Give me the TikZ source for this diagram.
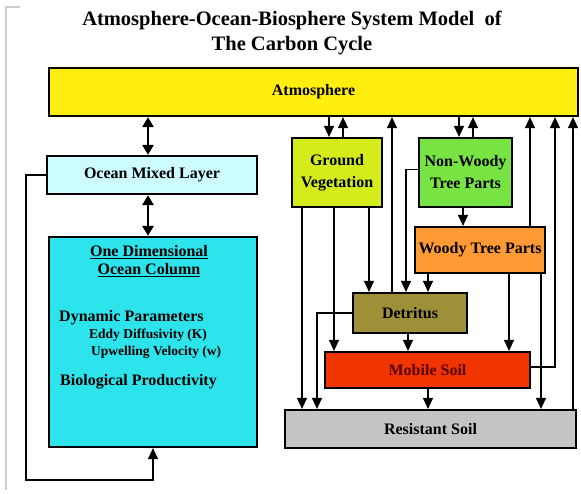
\documentclass[tikz,border=0pt]{standalone}
\usepackage{fontspec}
\setmainfont{Liberation Serif}
\usetikzlibrary{arrows.meta}
\definecolor{atmcol}{HTML}{FFEF10}
\definecolor{omlcol}{HTML}{CCFCFF}
\definecolor{colcol}{HTML}{2EE4EC}
\definecolor{gvcol}{HTML}{D4EC1C}
\definecolor{nwcol}{HTML}{78E444}
\definecolor{wdcol}{HTML}{FF9A34}
\definecolor{detcol}{HTML}{9E9038}
\definecolor{mscol}{HTML}{F23400}
\definecolor{rscol}{HTML}{C4C4C4}
\tikzset{box/.style={draw,line width=2.2pt,inner sep=0pt,align=center,
      font=\bfseries\fontsize{16}{22}\selectfont},
    flow/.style={line width=1.3pt,-{Triangle[length=11pt,width=10pt]}},
    both/.style={line width=2.6pt,
      {Triangle[length=10pt,width=11pt]}-{Triangle[length=10pt,width=11pt]}},
    sub/.style={anchor=west,inner sep=0pt,font=\bfseries\fontsize{13.5}{15}\selectfont},
    main/.style={anchor=west,inner sep=0pt,font=\bfseries\fontsize{16}{18}\selectfont}}

\begin{document}
\begin{tikzpicture}[x=1pt,y=-1pt]
\useasboundingbox (0,0) rectangle (581,493);
\draw[black!20,line width=1.5pt] (20,7) -- (6,7) -- (6,490);
\node[align=center,font=\bfseries\fontsize{20.5}{25}\selectfont] (title) at (292,33)
    {Atmosphere-Ocean-Biosphere System Model~ of\\The Carbon Cycle};

% boxes
\node[box,fill=atmcol,minimum width=529pt,minimum height=48pt] (atm) at (313.5,92) {Atmosphere};
\node[box,fill=omlcol,minimum width=210pt,minimum height=38pt] (oml) at (152,175) {Ocean Mixed Layer};
\node[box,fill=colcol,minimum width=208pt,minimum height=210pt] (col) at (153,342) {};
\node[box,fill=gvcol,minimum width=90pt,minimum height=69pt] (gv) at (337,172.5) {Ground\\Vegetation};
\node[box,fill=nwcol,minimum width=93pt,minimum height=69pt] (nw) at (465.5,172.5) {Non-Woody\\Tree Parts};
\node[box,fill=wdcol,minimum width=130pt,minimum height=46pt] (wd) at (480,250) {Woody Tree Parts};
\node[box,fill=detcol,minimum width=114pt,minimum height=40pt] (det) at (410,313) {Detritus};
\node[box,fill=mscol,text=black!65!red,minimum width=205pt,minimum height=36pt] (ms) at (427.5,370) {Mobile Soil};
\node[box,fill=rscol,minimum width=291pt,minimum height=38pt] (rs) at (430.5,429) {Resistant Soil};

% ocean column text
\node[box,draw=none,fill=none,font=\bfseries\fontsize{16}{18}\selectfont] (colhead) at (149,261)
    {\underline{One Dimensional}\\\underline{Ocean Column}};
\node[main] (dyn) at (59,318) {Dynamic Parameters};
\node[sub] (eddy) at (89,335) {Eddy Diffusivity (K)};
\node[sub] (upw) at (91,352) {Upwelling Velocity (w)};
\node[main] (bio) at (60,382) {Biological Productivity};

% lanes
\coordinate (ocn) at (148,0);
\coordinate (ret) at (26,480);
\coordinate (gvrs) at (302,0);
\coordinate (detrs) at (317,0);
\coordinate (atmgv) at (329,0);
\coordinate (gvms) at (334,0);
\coordinate (gvatm) at (343,0);
\coordinate (gvdet) at (369,0);
\coordinate (detatm) at (392,0);
\coordinate (nwdet) at (406,0);
\coordinate (detms) at (408,0);
\coordinate (wddet) at (428,0);
\coordinate (atmnw) at (459,0);
\coordinate (nwwd) at (463,0);
\coordinate (nwatm) at (473,0);
\coordinate (wdms) at (509,0);
\coordinate (wdatm) at (530,0);
\coordinate (wdrs) at (541,0);
\coordinate (msatm) at (555,0);
\coordinate (rsatm) at (573,0);

% ocean side
\draw[both] (atm.south -| ocn) -- (oml.north -| ocn);
\draw[both] (oml.south -| ocn) -- (col.north -| ocn);
\draw[flow] (oml.west) -| (ret) -| (col.south);

% exchange with atmosphere
\draw[flow] (atm.south -| atmgv) -- (gv.north -| atmgv);
\draw[flow] (gv.north -| gvatm) -- (atm.south -| gvatm);
\draw[flow] (atm.south -| atmnw) -- (nw.north -| atmnw);
\draw[flow] (nw.north -| nwatm) -- (atm.south -| nwatm);
\draw[flow] (det.north -| detatm) -- (atm.south -| detatm);
\draw[flow] (wd.north -| wdatm) -- (atm.south -| wdatm);
\draw[flow] ([yshift=3pt]ms.east) -| (atm.south -| msatm);
\draw[flow] (rs.north -| rsatm) -- (atm.south -| rsatm);

% litter and soil
\draw[flow] (gv.south -| gvrs) -- (rs.north -| gvrs);
\draw[flow] (gv.south -| gvms) -- (ms.north -| gvms);
\draw[flow] (gv.south -| gvdet) -- (det.north -| gvdet);
\draw[flow] ([yshift=3pt]nw.west) -| (det.north -| nwdet);
\draw[flow] (nw.south -| nwwd) -- (wd.north -| nwwd);
\draw[flow] (wd.south -| wddet) -- (det.north -| wddet);
\draw[flow] (wd.south -| wdms) -- (ms.north -| wdms);
\draw[flow] (wd.south -| wdrs) -- (rs.north -| wdrs);
\draw[flow] (det.west) -| (rs.north -| detrs);
\draw[flow] (det.south -| detms) -- (ms.north -| detms);
\draw[flow] (ms.south -| wddet) -- (rs.north -| wddet);
\end{tikzpicture}
\end{document}
